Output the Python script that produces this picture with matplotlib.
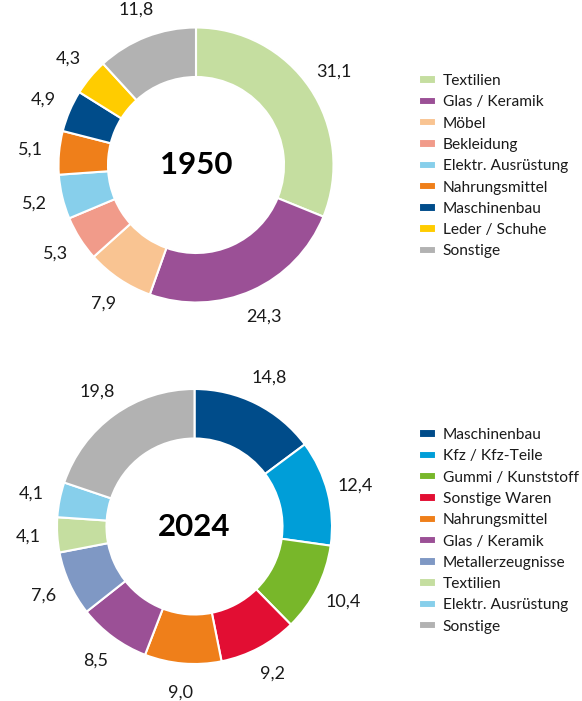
import matplotlib.pyplot as plt

plt.rcParams['font.family'] = ['Lato', 'DejaVu Sans']

# 1950
cats_1950 = ["Textilien", "Glas / Keramik", "Möbel", "Bekleidung", "Elektr. Ausrüstung",
             "Nahrungsmittel", "Maschinenbau", "Leder / Schuhe", "Sonstige"]
vals_1950 = [31.1, 24.3, 7.9, 5.3, 5.2, 5.1, 4.9, 4.3, 11.8]
cols_1950 = ["#c5dea0", "#9b5096", "#f9c492", "#f19b8a", "#87cfeb",
             "#ef7f1a", "#004c8a", "#ffcc00", "#b2b2b2"]

# 2024
cats_2024 = ["Maschinenbau", "Kfz / Kfz-Teile", "Gummi / Kunststoff", "Sonstige Waren",
             "Nahrungsmittel", "Glas / Keramik", "Metallerzeugnisse", "Textilien",
             "Elektr. Ausrüstung", "Sonstige"]
vals_2024 = [14.8, 12.4, 10.4, 9.2, 9.0, 8.5, 7.6, 4.1, 4.1, 19.8]
cols_2024 = ["#004c8a", "#009ed8", "#78b72a", "#e20e33", "#ef7f1a",
             "#9b5096", "#7f98c4", "#c5dea0", "#87cfeb", "#b2b2b2"]

W, H = 582, 701
fig = plt.figure(figsize=(W / 100, H / 100), dpi=100)

R = 137.5  # outer radius in px
LIM = 1.4


def donut(cx, cy, vals, cols, cats, year, leg_top):
    side = 2 * LIM * R
    ax = fig.add_axes([(cx - side / 2) / W, (H - cy - side / 2) / H, side / W, side / H])
    labels = [f"{v:.1f}".replace(".", ",") for v in vals]
    wedges, texts = ax.pie(vals, colors=cols, startangle=90, counterclock=False,
                           labels=labels, labeldistance=1.21,
                           wedgeprops=dict(width=0.36, edgecolor="white", linewidth=1.5),
                           textprops=dict(fontsize=13, color="#1a1a1a"))
    for t in texts:
        t.set_ha("center")
        t.set_va("center")
    ax.text(0, 0, year, ha="center", va="center", fontsize=22.5, fontweight="bold", color="#000000")
    ax.set_xlim(-LIM, LIM)
    ax.set_ylim(-LIM, LIM)
    ax.set_aspect("equal")
    ax.axis("off")
    fig.legend(wedges, cats, loc="upper left", bbox_to_anchor=(419 / W, 1 - leg_top / H),
               frameon=False, fontsize=11.2, handlelength=1.08, handleheight=0.45,
               handletextpad=0.45, labelspacing=0.47, borderaxespad=0, borderpad=0,
               labelcolor="#1a1a1a")


donut(196, 165, vals_1950, cols_1950, cats_1950, "1950", 74)
donut(194.5, 526.5, vals_2024, cols_2024, cats_2024, "2024", 428)

fig.savefig("out.png", dpi=100)
